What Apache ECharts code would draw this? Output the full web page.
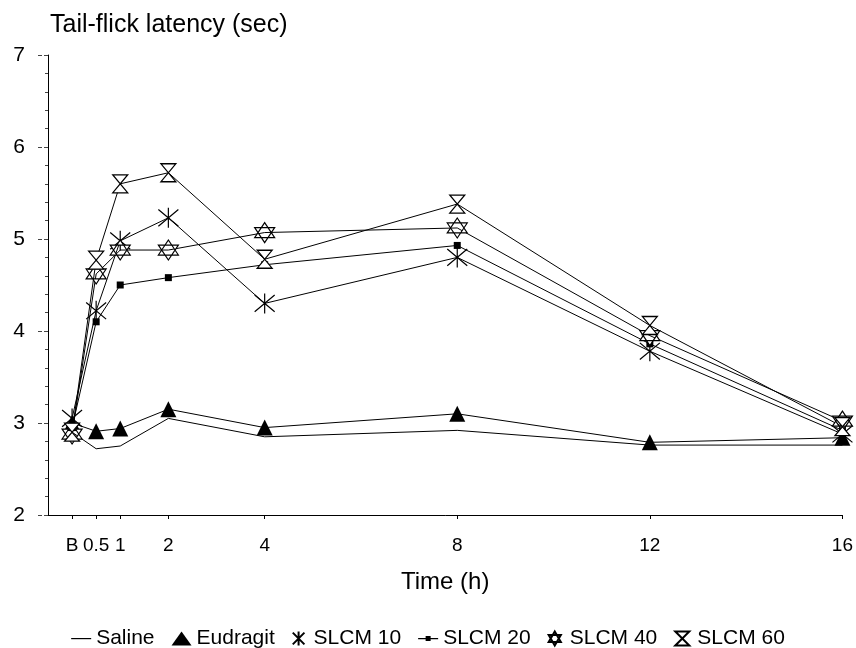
<!DOCTYPE html>
<html><head><meta charset="utf-8">
<script src="https://cdn.jsdelivr.net/npm/echarts@6/dist/echarts.min.js"></script>
<style>html,body{margin:0;padding:0;background:#fff}#c{width:856px;height:648px}</style>
</head><body><div id="c"></div>
<script>
var times = [0, 0.5, 1, 2, 4, 8, 12, 16];
var tickValues = [0, 0.5, 1, 2, 4, 8, 12, 16];
var tickLabels = ['B', '0.5', '1', '2', '4', '8', '12', '16'];
var seriesNames = ['Saline', 'Eudragit', 'SLCM 10', 'SLCM 20', 'SLCM 40', 'SLCM 60'];
var saline   = [2.90, 2.72, 2.75, 3.05, 2.85, 2.92, 2.76, 2.76];
var eudragit = [3.00, 2.91, 2.94, 3.15, 2.95, 3.10, 2.79, 2.84];
var slcm10   = [3.05, 4.22, 4.98, 5.23, 4.30, 4.80, 3.78, 2.88];
var slcm20   = [2.95, 4.10, 4.50, 4.58, 4.72, 4.93, 3.86, 2.92];
var slcm40   = [2.88, 4.62, 4.88, 4.88, 5.07, 5.12, 3.95, 3.02];
var slcm60   = [2.90, 4.77, 5.60, 5.72, 4.78, 5.38, 4.06, 2.96];

function pairs(vals){ return times.map(function(t,i){ return [t, vals[i]]; }); }

var FONT = 'Liberation Sans, Arial, sans-serif';
var asterisk = 'path://M-1,-1 L1,1 M1,-1 L-1,1 M0,-1.2 L0,1.2';
var starDavid = 'path://M0,-1 L0.87,0.5 L-0.87,0.5 Z M0,1 L0.87,-0.5 L-0.87,-0.5 Z';
var hourglass = 'path://M-1,-1 L1,-1 L-1,1 L1,1 Z';
var lineIcon = 'path://M0,0 M0,14 M0,6.5 L20,6.5 L20,7.7 L0,7.7 Z';
var sqLineIcon = 'path://M0,0 M0,14 M0,6.5 L7.5,6.5 L7.5,4.5 L12.5,4.5 L12.5,6.5 L20,6.5 L20,7.7 L12.5,7.7 L12.5,9.5 L7.5,9.5 L7.5,7.7 L0,7.7 Z';
var legendIcons = [lineIcon, 'triangle', asterisk, sqLineIcon, starDavid, hourglass];

function mk(name, vals, symbol, size, fill){
  return {
    name: name, type: 'line', data: pairs(vals),
    symbol: symbol, symbolSize: size,
    showSymbol: symbol !== 'none',
    lineStyle: {color: '#000', width: 1},
    itemStyle: {color: fill, borderColor: '#000', borderWidth: fill === '#000' ? 0 : 1.2},
    emphasis: {disabled: true},
    animation: false
  };
}

var chart = echarts.init(document.getElementById('c'));
chart.setOption({
  backgroundColor: '#fff',
  textStyle: {fontFamily: FONT, color: '#000'},
  title: {text: 'Tail-flick latency (sec)', left: 45, top: 8,
    textStyle: {fontFamily: FONT, fontSize: 25, fontWeight: 'normal', color: '#000'}},
  grid: {left: 48, right: 13, top: 55, bottom: 133},
  legend: {
    top: 623, left: 'center', itemGap: 17, itemWidth: 20, itemHeight: 14,
    data: seriesNames.map(function(n, i){ return {name: n, icon: legendIcons[i]}; }),
    textStyle: {fontFamily: FONT, fontSize: 21, color: '#000'}
  },
  xAxis: {
    type: 'value', min: -0.5, max: 16,
    name: 'Time (h)', nameLocation: 'middle', nameGap: 55,
    nameTextStyle: {fontFamily: FONT, fontSize: 24, color: '#000'},
    splitLine: {show: false},
    axisLine: {lineStyle: {color: '#000', width: 1}},
    axisTick: {customValues: tickValues, length: 4, lineStyle: {color: '#000'}},
    axisLabel: {customValues: tickValues, margin: 21, fontFamily: FONT, fontSize: 19, color: '#000',
      formatter: function(v){ var i = tickValues.indexOf(v); return i >= 0 ? tickLabels[i] : ''; }}
  },
  yAxis: {
    type: 'value', min: 2, max: 7, interval: 1,
    splitLine: {show: false},
    axisLine: {show: true, onZero: false, lineStyle: {color: '#000', width: 1}},
    axisTick: {show: true, length: 12, lineStyle: {color: '#444', type: 'dashed'}},
    minorTick: {show: true, splitNumber: 5, length: 3, lineStyle: {color: '#444'}},
    axisLabel: {margin: 23, fontFamily: FONT, fontSize: 21, color: '#000'}
  },
  series: [
    mk('Saline', saline, 'none', 0, '#000'),
    mk('Eudragit', eudragit, 'triangle', 16, '#000'),
    mk('SLCM 10', slcm10, asterisk, 20, '#fff'),
    mk('SLCM 20', slcm20, 'rect', 7, '#000'),
    mk('SLCM 40', slcm40, starDavid, 20, '#fff'),
    mk('SLCM 60', slcm60, hourglass, [15, 18], '#fff')
  ]
});
</script></body></html>
